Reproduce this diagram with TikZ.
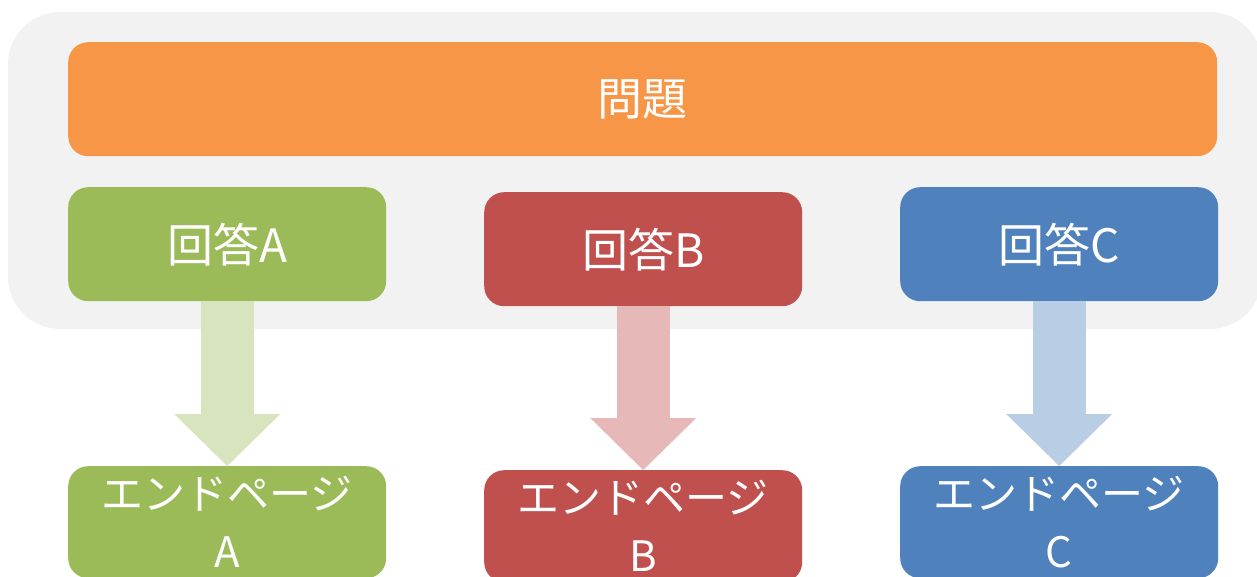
\documentclass[tikz,border=0pt]{standalone}
\usepackage{fontspec}
\newfontfamily\jpfont{Noto Sans CJK JP}
\usetikzlibrary{arrows.meta}

\definecolor{panelGrey}{HTML}{F2F2F2}
\definecolor{questionOrange}{HTML}{F79646}
\definecolor{answerGreen}{HTML}{9BBB59}
\definecolor{answerRed}{HTML}{C0504D}
\definecolor{answerBlue}{HTML}{4F81BD}
\definecolor{flowGreen}{HTML}{D7E4BD}
\definecolor{flowRed}{HTML}{E6B9B8}
\definecolor{flowBlue}{HTML}{B9CDE5}

\begin{document}
\begin{tikzpicture}[x=1pt, y=-1pt]
    % Define styles
    \tikzset{
        box/.style={rounded corners=20pt, inner sep=0pt, anchor=north west,
            minimum width=318pt, minimum height=114pt, text=white, align=center,
            font=\jpfont\fontsize{46}{52}\selectfont},
        endbox/.style={box, minimum height=112pt, font=\jpfont\fontsize{42}{58}\selectfont},
        flow/.style={line width=53pt, -{Triangle[width=106pt, length=52pt, line width=0pt]}}
    }
    \useasboundingbox (0,0) rectangle (1257,577);

    % Grey panel behind question and answers
    \fill[panelGrey, rounded corners=52pt] (8,12) rectangle (1262,329);

    % Question
    \node[box, fill=questionOrange, minimum width=1149pt,
        font=\jpfont\fontsize{45}{50}\selectfont] (question) at (68,42) {問題};

    % Answers
    \node[box, fill=answerGreen] (ansA) at (68,187) {回答A};
    \node[box, fill=answerRed] (ansB) at (484,192) {回答B};
    \node[box, fill=answerBlue] (ansC) at (900,187) {回答C};

    % End pages
    \node[endbox, fill=answerGreen] (endA) at (68,466) {エンドページ\\A};
    \node[endbox, fill=answerRed] (endB) at (484,470) {エンドページ\\B};
    \node[endbox, fill=answerBlue] (endC) at (900,466) {エンドページ\\C};

    % Block arrows from answers to end pages
    \draw[flow, flowGreen] (ansA) -- (endA);
    \draw[flow, flowRed] (ansB) -- (endB);
    \draw[flow, flowBlue] (ansC) -- (endC);
\end{tikzpicture}
\end{document}
